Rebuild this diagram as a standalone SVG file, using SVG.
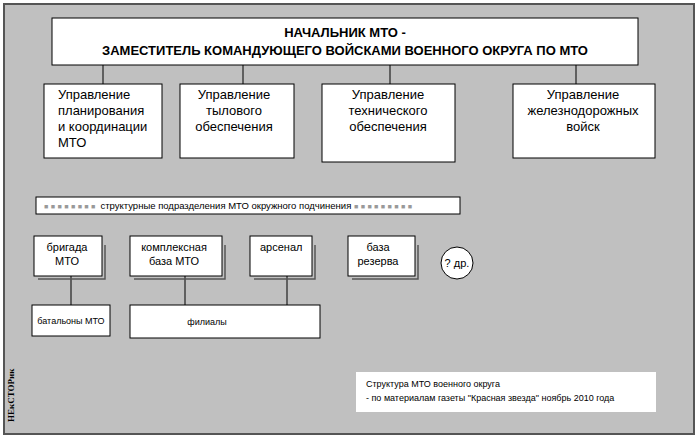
<svg xmlns="http://www.w3.org/2000/svg" width="699" height="437" viewBox="0 0 699 437">
<style>
text{font-family:"Liberation Sans",Arial,sans-serif;fill:#000}
.b{fill:#fff;stroke:#000;stroke-width:1}
.sh{fill:none;stroke:#555;stroke-width:1.5}
.l{stroke:#000;stroke-width:1;fill:none}
.t13{font-size:13px}
.t11{font-size:11px}
.t9{font-size:9px}
.sq{fill:#999;font-size:7px;letter-spacing:2.5px}
</style>
<rect x="0" y="0" width="699" height="437" fill="#fff"/>
<rect x="4" y="4" width="690" height="430" fill="#c0c0c0" stroke="#555" stroke-width="2"/>
<g id="connectors">
<path class="l" d="M103 65V84M243 65V84M390 65V84M576 65V84M71 276V305M185 276V305M287 276V305"/>
</g>
<g id="top"><rect class="b" x="52" y="18" width="586" height="47"/>
<text x="345" y="37" text-anchor="middle" class="t13" font-weight="bold">НАЧАЛЬНИК МТО -</text>
<text x="345" y="55" text-anchor="middle" class="t13" font-weight="bold">ЗАМЕСТИТЕЛЬ КОМАНДУЮЩЕГО ВОЙСКАМИ ВОЕННОГО ОКРУГА ПО МТО</text></g>
<g id="u1"><rect class="b" x="44" y="84" width="118" height="74"/>
<text class="t13" x="58"><tspan x="58" y="99">Управление</tspan><tspan x="58" y="115">планирования</tspan><tspan x="58" y="131">и координации</tspan><tspan x="58" y="147">МТО</tspan></text></g>
<g id="u2"><rect class="b" x="180" y="84" width="114" height="74"/>
<text class="t13" text-anchor="middle"><tspan x="234" y="99">Управление</tspan><tspan x="234" y="115">тылового</tspan><tspan x="234" y="131">обеспечения</tspan></text></g>
<g id="u3"><rect class="b" x="322" y="84" width="133" height="78"/>
<text class="t13" text-anchor="middle"><tspan x="388" y="99">Управление</tspan><tspan x="388" y="115">технического</tspan><tspan x="388" y="131">обеспечения</tspan></text></g>
<g id="u4"><rect class="b" x="513" y="84" width="142" height="74"/>
<text class="t13" text-anchor="middle"><tspan x="583" y="99">Управление</tspan><tspan x="583" y="115">железнодорожных</tspan><tspan x="583" y="131">войск</tspan></text></g>
<g id="bar"><rect class="b" x="36" y="197" width="424" height="17"/>
<text x="44" y="209" style="font-size:9.5px"><tspan class="sq">■■■■■■■■</tspan> структурные подразделения МТО окружного подчинения <tspan class="sq">■■■■■■■■■</tspan></text></g>
<g id="brig"><path class="sh" d="M105 245V279H38"/><rect class="b" x="34" y="236" width="68" height="40"/>
<text class="t11" text-anchor="middle"><tspan x="67" y="251">бригада</tspan><tspan x="67" y="265">МТО</tspan></text></g>
<g id="komp"><path class="sh" d="M225 245V279H134"/><rect class="b" x="130" y="236" width="92" height="40"/>
<text class="t11" text-anchor="middle"><tspan x="174" y="251">комплексная</tspan><tspan x="174" y="265">база МТО</tspan></text></g>
<g id="ars"><path class="sh" d="M315 245V279H254"/><rect class="b" x="250" y="236" width="62" height="40"/>
<text class="t11" x="260" y="251">арсенал</text></g>
<g id="rez"><path class="sh" d="M418 245V279H352"/><rect class="b" x="348" y="236" width="67" height="40"/>
<text class="t11" text-anchor="middle"><tspan x="378" y="251">база</tspan><tspan x="378" y="265">резерва</tspan></text></g>
<g id="dr"><circle class="b" cx="457" cy="263" r="16"/><text class="t11" x="457" y="267" text-anchor="middle">? др.</text></g>
<g id="bat"><rect class="b" x="32" y="305" width="78" height="31"/><text class="t9" x="71" y="324" text-anchor="middle">батальоны МТО</text></g>
<g id="fil"><rect class="b" x="130" y="305" width="190" height="33"/><text class="t9" x="207" y="325" text-anchor="middle">филиалы</text></g>
<g id="note"><rect x="356" y="372" width="300" height="40" fill="#fff"/>
<text class="t9"><tspan x="366" y="387">Структура МТО военного округа</tspan><tspan x="366" y="401">-  по материалам газеты "Красная звезда" ноябрь 2010 года</tspan></text></g>
<text transform="translate(14,422) rotate(-90)" style="font-family:'Liberation Serif',serif;font-size:9px;font-weight:bold">НЕкСТОРик</text>
</svg>
